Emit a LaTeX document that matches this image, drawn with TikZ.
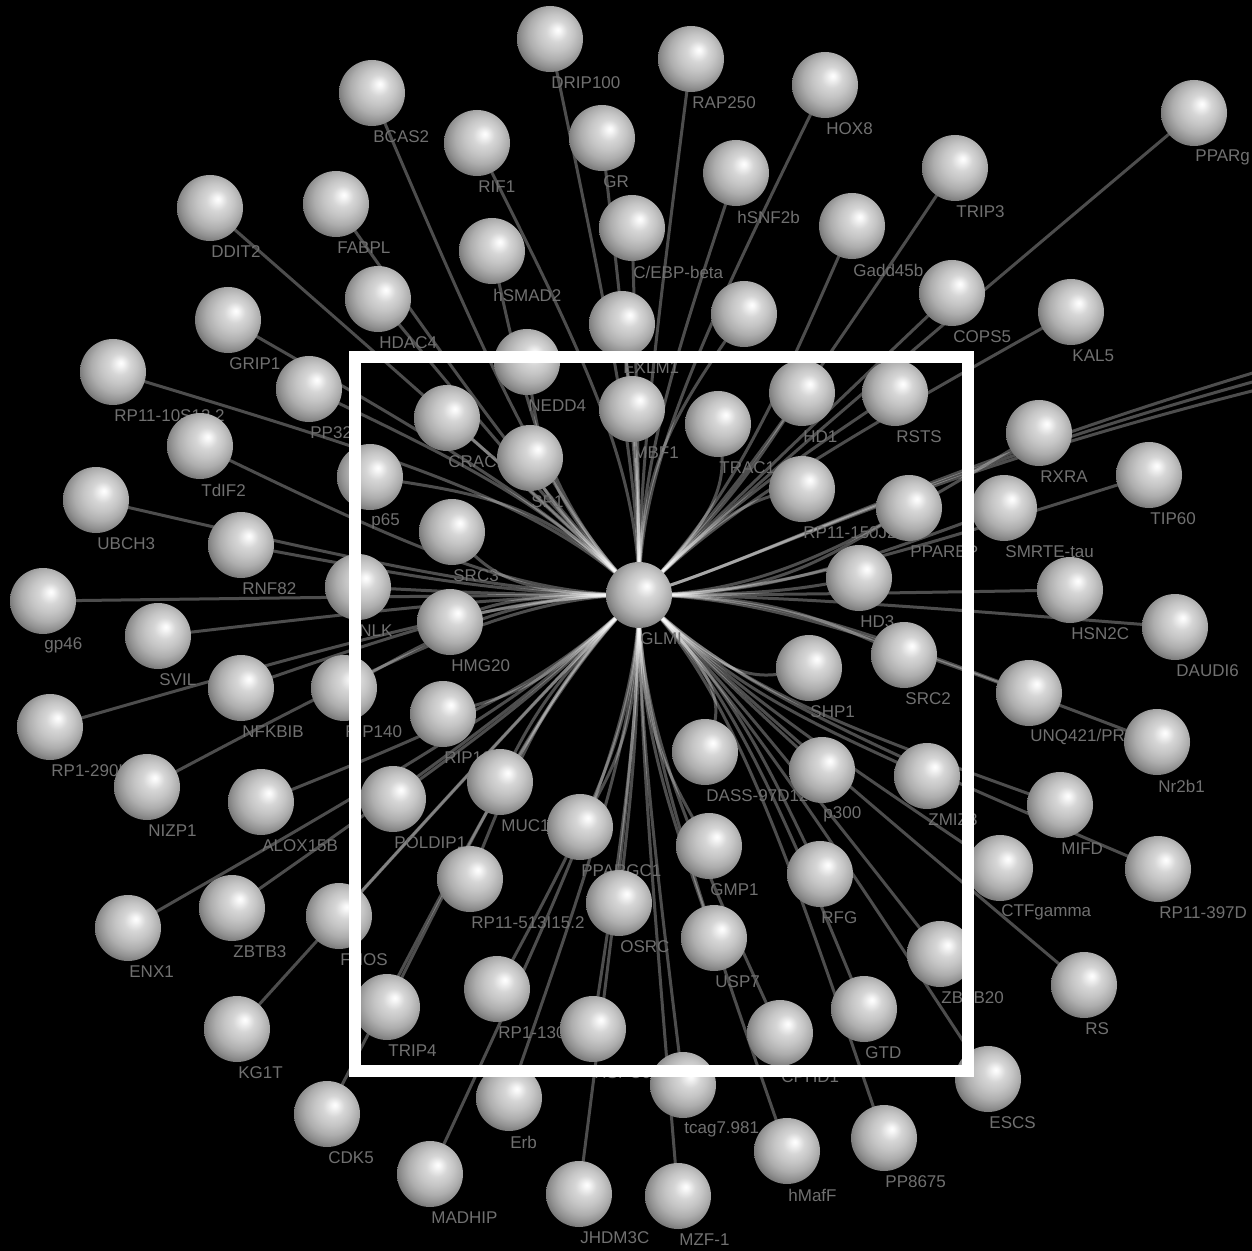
\documentclass[tikz,border=0pt]{standalone}
\usepackage{fontspec}
\setmainfont{Liberation Sans}
\usetikzlibrary{calc}
\pgfdeclarelayer{bg}
\pgfdeclarelayer{edges}
\pgfdeclarelayer{labels}
\pgfsetlayers{bg,edges,labels,main}
\pgfdeclareradialshading{sph}{\pgfpoint{6bp}{7bp}}{color(0bp)=(white); color(2bp)=(white!97!black); color(8bp)=(white!84!black); color(14bp)=(white!77!black); color(20bp)=(white!68!black); color(25bp)=(white!57!black); color(29bp)=(white!46!black); color(35bp)=(white!40!black); color(50bp)=(white!35!black)}
\definecolor{lblgray}{RGB}{112,112,112}
\tikzset{
  sphnode/.style={circle, minimum size=33pt, inner sep=0pt, shading=sph},
  lbl/.style={anchor=west, inner sep=0pt, text=lblgray, font=\fontsize{8.5}{10}\selectfont},
  edgeline/.style={draw=white, draw opacity=0.3, line width=1.5pt},
  frame/.style={draw=white, line width=5.75pt}
}
\begin{document}
\begin{tikzpicture}[x=0.5pt,y=-0.5pt]
\begin{pgfonlayer}{bg}
\fill[black] (0,0) rectangle (1252,1251);
\end{pgfonlayer}
\useasboundingbox (0,0) rectangle (1252,1251);
\node[sphnode] (g) at (639,595) {};
\begin{pgfonlayer}{labels}
\node[lbl] (g-l) at (640,639) {GLMI};
\end{pgfonlayer}
\foreach \n/\x/\y/\t in {
drip/550/39/DRIP100, rap/691/59/RAP250, hox/825/85/HOX8, pparg/1194/113/PPARg,
bcas/372/93/BCAS2, rif/477/143/RIF1, gr/602/138/GR, hsnf/736/173/hSNF2b,
trip3/955/168/TRIP3, ddit/210/208/DDIT2, fabpl/336/204/FABPL, smad/492/251/hSMAD2,
cebp/632/228/{C/EBP-beta}, gadd/852/226/Gadd45b, cops/952/293/COPS5, kal/1071/312/KAL5,
hdac/378/299/HDAC4, grip/228/320/GRIP1, nedd/527/362/NEDD4, exlm/622/324/EXLM1,
unk/744/314/{}, pp32/309/389/PP32, rpten/113/372/RP11-10S13.2, crac/447/418/CRAC1,
sp1/530/458/SP1, mbf/632/409/MBF1, trac/718/424/TRAC1, hd1/802/393/HD1,
rsts/895/393/RSTS, rxra/1039/433/RXRA, tdif/200/446/TdIF2, p65/370/477/p65,
rpfifty/802/489/RP11-150J2.1, pparbp/909/508/PPARBP, smrte/1004/508/SMRTE-tau, tip/1149/475/TIP60,
ubch/96/500/UBCH3, rnf/241/545/RNF82, srcthree/452/532/SRC3, hd3/859/578/HD3,
hsn/1070/590/HSN2C, daudi/1175/627/DAUDI6, gp46/43/601/gp46, nlk/358/587/NLK,
hmg/450/622/HMG20, svil/158/636/SVIL, srctwo/904/655/SRC2, shp/809/668/SHP1,
unq/1029/693/{UNQ421/PRO3674}, nfk/241/688/NFKBIB, ripa/344/688/RIP140, ripb/443/714/RIP160,
rpnine/50/727/RP1-290I10.1, dass/705/752/DASS-97D12.7, p300/822/770/p300, zmiz/927/776/ZMIZ3,
nr2/1157/742/Nr2b1, mifd/1060/805/MIFD, nizp/147/787/NIZP1, alox/261/802/ALOX15B,
pold/393/799/POLDIP1, muc/500/782/MUC1, ppargc/580/827/PPARGC1, gmp/709/846/GMP1,
rfg/820/874/RFG, ctf/1000/868/CTFgamma, rpthree/1158/869/RP11-397D, enx/128/928/ENX1,
zbtbthree/232/908/ZBTB3, fhos/339/916/FHOS, rpfive/470/879/RP11-513I15.2, osrc/619/903/OSRC,
usp/714/938/USP7, zbtbtwenty/940/954/ZBTB20, rs/1084/985/RS, kg/237/1029/KG1T,
tripfour/387/1007/TRIP4, rponethree/497/989/RP1-130H16, hspc/593/1029/HSPC0, cphd/780/1033/CPHD1,
gtd/864/1009/GTD, escs/988/1079/ESCS, cdk/327/1114/CDK5, erb/509/1098/Erb,
tcag/683/1085/tcag7.981, hmaf/787/1151/hMafF, ppeight/884/1138/PP8675, madhip/430/1174/MADHIP,
jhdm/579/1194/JHDM3C, mzf/678/1196/MZF-1}{
  \node[sphnode] (\n) at (\x,\y) {};
  \begin{pgfonlayer}{labels}
    \node[lbl] (\n-l) at (\x+1,\y+44) {\t};
  \end{pgfonlayer}
  \pgfmathsetmacro\ang{atan2(595-\y,\x-639)}
  \pgfmathsetmacro\qa{45*round(\ang/45)}
  \pgfmathsetmacro\bx{639+130*cos(\qa)}
  \pgfmathsetmacro\by{595-130*sin(\qa)}
  \begin{pgfonlayer}{edges}
    \draw[edgeline] (\n.center) .. controls ($(\n.center)!0.65!(\bx,\by)$) and (\bx,\by) .. (g.center);
  \end{pgfonlayer}
}
\coordinate (offa) at (1256,372);
\coordinate (offb) at (1256,381);
\coordinate (offc) at (1256,390);
\begin{pgfonlayer}{edges}
\foreach \c in {offa,offb,offc}{
  \draw[edgeline] (\c) .. controls (900,480) and (760,560) .. (g.center);
}
\end{pgfonlayer}
\draw[frame] (355,357) rectangle (968,1071);
\end{tikzpicture}
\end{document}
